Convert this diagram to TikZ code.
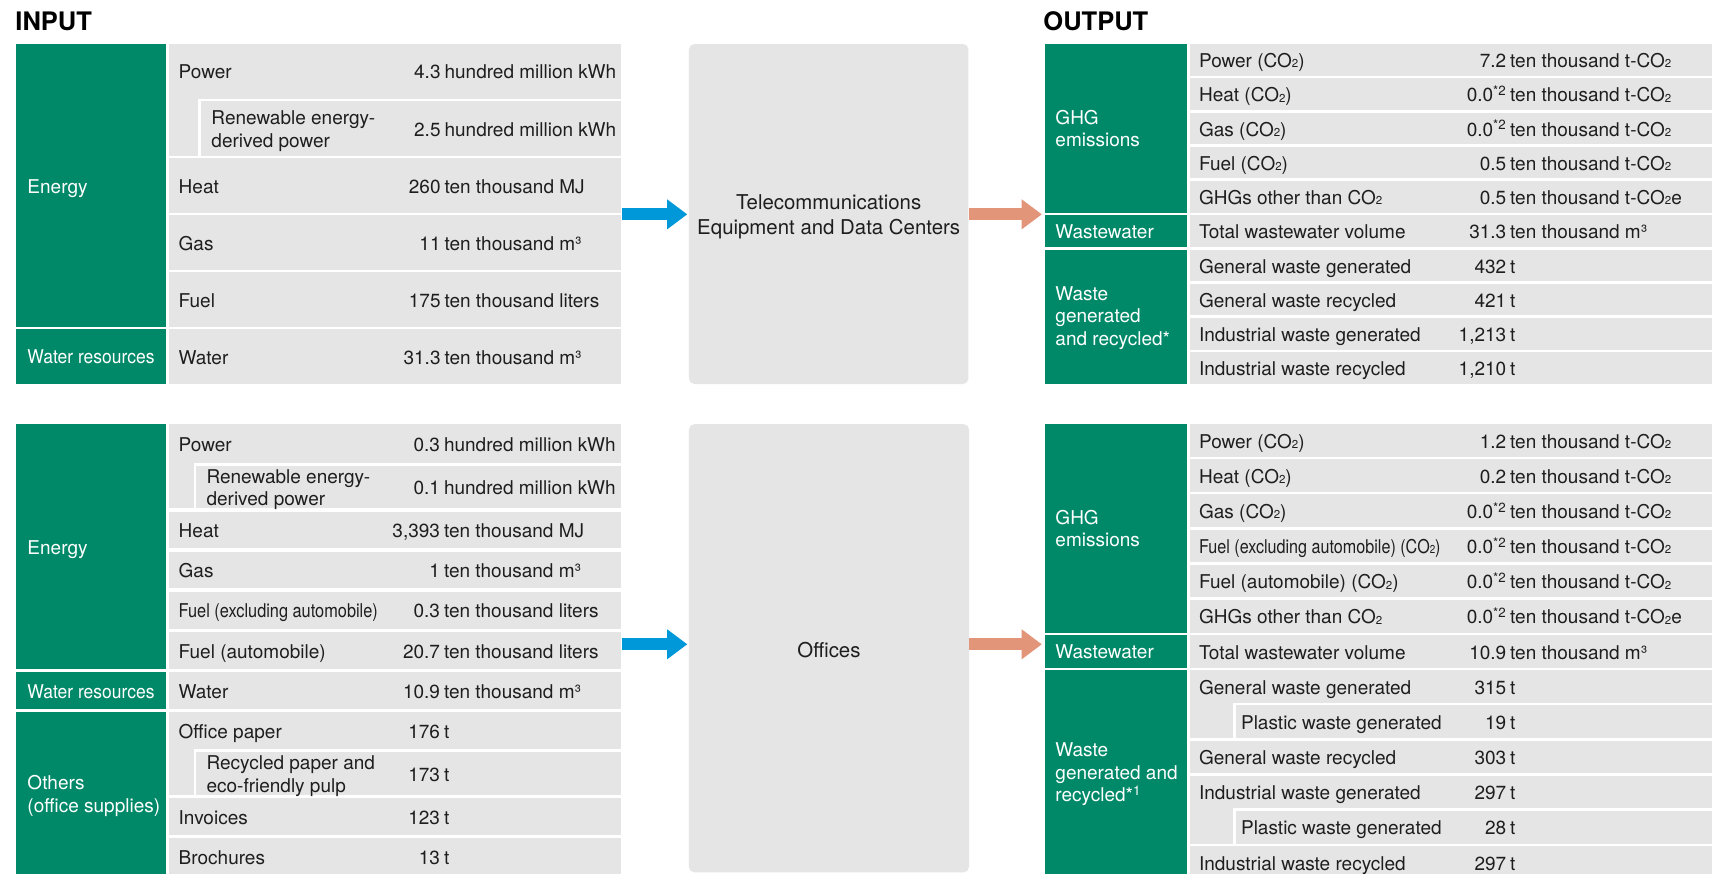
\documentclass[tikz,border=0pt]{standalone}
\usepackage{fontspec}
\setmainfont{TeX Gyre Heros}
\usepackage{graphicx}
\usetikzlibrary{arrows.meta}
\definecolor{hgreen}{RGB}{0,137,104}
\definecolor{cellgray}{RGB}{229,229,229}
\definecolor{arrblue}{RGB}{0,152,216}
\definecolor{arrorange}{RGB}{226,149,120}
\definecolor{ink}{RGB}{30,30,30}
\newcommand\bodyf{\fontsize{19}{22.6}\selectfont}
\newcommand\ctrf{\fontsize{20.4}{25}\selectfont}
\newcommand\ttlf{\fontsize{25.5}{30}\selectfont\bfseries}
\newcommand\ssub[1]{\raisebox{-0.4pt}{\fontsize{11.5}{12}\selectfont #1}}
\newcommand\COt{CO\ssub{2}}
\newcommand\numl[1]{\llap{#1\hspace{4pt}}}
\newcommand\stackl[1]{\begin{tabular}[t]{@{}l@{}}#1\end{tabular}}
\newcommand\condx[2]{\scalebox{#1}[1]{#2}}
\newcommand\supnote[1]{\textsuperscript{#1}}
\begin{document}
\begin{tikzpicture}[x=1.0918pt,y=-1.0918pt,
  cell/.style={fill=cellgray},
  grn/.style={fill=hgreen},
  lbl/.style={anchor=base west,inner sep=0pt,font=\bodyf,text=ink},
  glbl/.style={anchor=base west,inner sep=0pt,font=\bodyf,text=white},
  val/.style={anchor=base west,inner sep=0pt,font=\bodyf,text=ink},
  ttl/.style={anchor=base west,inner sep=0pt,font=\ttlf,text=black},
  cbox/.style={fill=cellgray,rounded corners=5.5pt,inner sep=0pt},
  ctext/.style={inner sep=0pt,font=\ctrf,align=center,text=ink},
  barrow/.style={draw=arrblue,line width=11.7pt,-{Triangle[length=20pt,width=30pt,line width=0pt]}},
  oarrow/.style={draw=arrorange,line width=11.7pt,-{Triangle[length=20pt,width=30pt,line width=0pt]}}]
\useasboundingbox (0,0) rectangle (1568,799.6);
\clip (0,0) rectangle (1568,799.6);
\fill[white] (0,0) rectangle (1568,799.6);

% titles
\node[ttl] (tin) at (14,27.5) {INPUT};
\node[ttl] (tout) at (955.5,27.5) {OUTPUT};

% ---------- top-left input ----------
\fill[grn] (15,40.3) rectangle (152,299.42);
\fill[grn] (15,301.7) rectangle (152,351.7);
\fill[cell] (155,40.3) rectangle (569,90.3);
\fill[cell] (155,90.3) rectangle (181.6,142.58);
\fill[cell] (183.8,92.58) rectangle (569,142.58);
\fill[cell] (155,144.86) rectangle (569,194.86);
\fill[cell] (155,197.14) rectangle (569,247.14);
\fill[cell] (155,249.42) rectangle (569,299.42);
\fill[cell] (155,301.7) rectangle (569,351.7);

\node[glbl] (e1) at (25,176.9) {Energy};
\node[glbl] (w1) at (25,332.5) {\condx{0.92}{Water resources}};
\node[lbl] (l11) at (163.5,72.3) {Power};
\node[val] (v11) at (407,72.3) {\numl{4.3}hundred million kWh};
\node[lbl] (l12) at (193.5,114.2) {\stackl{Renewable energy-\\derived power}};
\node[val] (v12) at (407,124.6) {\numl{2.5}hundred million kWh};
\node[lbl] (l13) at (163.5,176.9) {Heat};
\node[val] (v13) at (407,176.9) {\numl{260}ten thousand MJ};
\node[lbl] (l14) at (163.5,229.1) {Gas};
\node[val] (v14) at (407,229.1) {\numl{11}ten thousand m³};
\node[lbl] (l15) at (163.5,281.4) {Fuel};
\node[val] (v15) at (407,281.4) {\numl{175}ten thousand liters};
\node[lbl] (l16) at (163.5,333.7) {Water};
\node[val] (v16) at (407,333.7) {\numl{31.3}ten thousand m³};

% ---------- top centre ----------
\node[cbox,minimum width=256*1.0918pt,minimum height=311.4*1.0918pt] (dc) at (759,196) {};
\node[ctext] (dct) at ([yshift=-2.4pt]dc.center) {Telecommunications\\Equipment and Data Centers};
\coordinate (tlE) at (569.4,196.3);
\coordinate (trW) at (954.1,196.3);
\draw[barrow,shorten >=1.6pt] (tlE) -- (tlE -| dc.west);
\draw[oarrow] (trW -| dc.east) -- (trW);

% ---------- top-right output ----------
\fill[grn] (957,40.3) rectangle (1087,194.8);
\fill[grn] (957,197.2) rectangle (1087,226.2);
\fill[grn] (957,228.58) rectangle (1087,351.7);
\foreach \k in {0,...,9} {\fill[cell] (1090,{40.3+31.38*\k}) rectangle (1568,{69.28+31.38*\k});}

\node[glbl] (g1) at (966.5,113.6) {\stackl{GHG\\emissions}};
\node[glbl] (ww1) at (966.5,218) {Wastewater};
\node[glbl] (ws1) at (966.5,274.8) {\stackl{Waste\\generated\\and recycled*}};

\node[lbl] (o10) at (1098,61.8) {Power (\COt)};
\node[val] (p10) at (1383,61.8) {\numl{7.2}ten thousand t-\COt};
\node[lbl] (o11) at (1098,93.2) {Heat (\COt)};
\node[val] (p11) at (1383,93.2) {\numl{0.0\supnote{*2}}ten thousand t-\COt};
\node[lbl] (o12) at (1098,124.6) {Gas (\COt)};
\node[val] (p12) at (1383,124.6) {\numl{0.0\supnote{*2}}ten thousand t-\COt};
\node[lbl] (o13) at (1098,155.9) {Fuel (\COt)};
\node[val] (p13) at (1383,155.9) {\numl{0.5}ten thousand t-\COt};
\node[lbl] (o14) at (1098,187.3) {GHGs other than \COt};
\node[val] (p14) at (1383,187.3) {\numl{0.5}ten thousand t-\COt e};
\node[lbl] (o15) at (1098,218.7) {Total wastewater volume};
\node[val] (p15) at (1383,218.7) {\numl{31.3}ten thousand m³};
\node[lbl] (o16) at (1098,250.1) {General waste generated};
\node[val] (p16) at (1383,250.1) {\numl{432}t};
\node[lbl] (o17) at (1098,281.5) {General waste recycled};
\node[val] (p17) at (1383,281.5) {\numl{421}t};
\node[lbl] (o18) at (1098,312.8) {Industrial waste generated};
\node[val] (p18) at (1383,312.8) {\numl{1,213}t};
\node[lbl] (o19) at (1098,344.2) {Industrial waste recycled};
\node[val] (p19) at (1383,344.2) {\numl{1,210}t};

% ---------- bottom-left input ----------
\fill[grn] (15,388.4) rectangle (152,612.8);
\fill[grn] (15,615.8) rectangle (152,649.4);
\fill[grn] (15,652.4) rectangle (152,801.4);
\fill[cell] (155,388.4) rectangle (569,423.8);
\fill[cell] (155,423.8) rectangle (177.3,465.6);
\fill[cell] (179.5,426.5) rectangle (569,465.6);
\fill[cell] (155,468.7) rectangle (569,502.2);
\fill[cell] (155,505.3) rectangle (569,538.9);
\fill[cell] (155,541.9) rectangle (569,576.1);
\fill[cell] (155,579.2) rectangle (569,612.8);
\fill[cell] (155,615.8) rectangle (569,649.4);
\fill[cell] (155,652.4) rectangle (569,686.0);
\fill[cell] (155,686.0) rectangle (177.3,728.2);
\fill[cell] (179.5,688.5) rectangle (569,728.2);
\fill[cell] (155,731.2) rectangle (569,764.8);
\fill[cell] (155,767.8) rectangle (569,801.4);

\node[glbl] (e2) at (25,507.6) {Energy};
\node[glbl] (w2) at (25,639.6) {\condx{0.92}{Water resources}};
\node[glbl] (ot2) at (25,723) {\stackl{Others\\(office supplies)}};
\node[lbl] (l21) at (163.5,413.1) {Power};
\node[val] (v21) at (406.5,413.1) {\numl{0.3}hundred million kWh};
\node[lbl] (l22) at (189,442.7) {\stackl{Renewable energy-\\derived power}};
\node[val] (v22) at (406.5,453.05) {\numl{0.1}hundred million kWh};
\node[lbl] (l23) at (163.5,492.45) {Heat};
\node[val] (v23) at (406.5,492.45) {\numl{3,393}ten thousand MJ};
\node[lbl] (l24) at (163.5,529.1) {Gas};
\node[val] (v24) at (406.5,529.1) {\numl{1}ten thousand m³};
\node[lbl] (l25) at (163.5,566.0) {\condx{0.86}{Fuel (excluding automobile)}};
\node[val] (v25) at (406.5,566.0) {\numl{0.3}ten thousand liters};
\node[lbl] (l26) at (163.5,603.0) {Fuel (automobile)};
\node[val] (v26) at (406.5,603.0) {\numl{20.7}ten thousand liters};
\node[lbl] (l27) at (163.5,639.6) {Water};
\node[val] (v27) at (406.5,639.6) {\numl{10.9}ten thousand m³};
\node[lbl] (l28) at (163.5,676.2) {Office paper};
\node[val] (v28) at (406.5,676.2) {\numl{176}t};
\node[lbl] (l29) at (189,705.0) {\stackl{Recycled paper and\\eco-friendly pulp}};
\node[val] (v29) at (406.5,715.35) {\numl{173}t};
\node[lbl] (l2a) at (163.5,755.0) {Invoices};
\node[val] (v2a) at (406.5,755.0) {\numl{123}t};
\node[lbl] (l2b) at (163.5,791.6) {Brochures};
\node[val] (v2b) at (406.5,791.6) {\numl{13}t};

% ---------- bottom centre ----------
\node[cbox,minimum width=256.5*1.0918pt,minimum height=410.6*1.0918pt] (of) at (759.25,593.7) {};
\node[ctext] (oft) at ([yshift=-1.4pt]of.center) {Offices};
\coordinate (blE) at (569.4,590.1);
\coordinate (brW) at (954.1,590.1);
\draw[barrow,shorten >=1.6pt] (blE) -- (blE -| of.west);
\draw[oarrow] (brW -| of.east) -- (brW);

% ---------- bottom-right output ----------
\fill[grn] (957,388.4) rectangle (1087,579.3);
\fill[grn] (957,581.66) rectangle (1087,611.56);
\fill[grn] (957,613.87) rectangle (1087,804);
\foreach \k in {0,...,7,9,10,12} {\fill[cell] (1090,{388.4+32.21*\k}) rectangle (1568,{418.3+32.21*\k});}
\fill[cell] (1090,643.77) rectangle (1129.6,675.98);
\fill[cell] (1131.8,646.08) rectangle (1568,675.98);
\fill[cell] (1090,740.4) rectangle (1129.6,772.61);
\fill[cell] (1131.8,742.71) rectangle (1568,772.61);

\node[glbl] (g2) at (966.5,480) {\stackl{GHG\\emissions}};
\node[glbl] (ww2) at (966.5,603) {Wastewater};
\node[glbl] (ws2) at (966.5,693) {\stackl{Waste\\generated and\\recycled*\supnote{1}}};

\node[lbl] (o20) at (1098,410.35) {Power (\COt)};
\node[val] (p20) at (1383,410.35) {\numl{1.2}ten thousand t-\COt};
\node[lbl] (o21) at (1098,442.56) {Heat (\COt)};
\node[val] (p21) at (1383,442.56) {\numl{0.2}ten thousand t-\COt};
\node[lbl] (o22) at (1098,474.77) {Gas (\COt)};
\node[val] (p22) at (1383,474.77) {\numl{0.0\supnote{*2}}ten thousand t-\COt};
\node[lbl] (o23) at (1098,506.98) {\condx{0.85}{Fuel (excluding automobile) (\COt)}};
\node[val] (p23) at (1383,506.98) {\numl{0.0\supnote{*2}}ten thousand t-\COt};
\node[lbl] (o24) at (1098,539.19) {Fuel (automobile) (\COt)};
\node[val] (p24) at (1383,539.19) {\numl{0.0\supnote{*2}}ten thousand t-\COt};
\node[lbl] (o25) at (1098,571.4) {GHGs other than \COt};
\node[val] (p25) at (1383,571.4) {\numl{0.0\supnote{*2}}ten thousand t-\COt e};
\node[lbl] (o26) at (1098,603.61) {Total wastewater volume};
\node[val] (p26) at (1383,603.61) {\numl{10.9}ten thousand m³};
\node[lbl] (o27) at (1098,635.82) {General waste generated};
\node[val] (p27) at (1383,635.82) {\numl{315}t};
\node[lbl] (o28) at (1136.5,668.03) {Plastic waste generated};
\node[val] (p28) at (1383,668.03) {\numl{19}t};
\node[lbl] (o29) at (1098,700.24) {General waste recycled};
\node[val] (p29) at (1383,700.24) {\numl{303}t};
\node[lbl] (o2a) at (1098,732.45) {Industrial waste generated};
\node[val] (p2a) at (1383,732.45) {\numl{297}t};
\node[lbl] (o2b) at (1136.5,764.66) {Plastic waste generated};
\node[val] (p2b) at (1383,764.66) {\numl{28}t};
\node[lbl] (o2c) at (1098,796.87) {Industrial waste recycled};
\node[val] (p2c) at (1383,796.87) {\numl{297}t};
\end{tikzpicture}
\end{document}
